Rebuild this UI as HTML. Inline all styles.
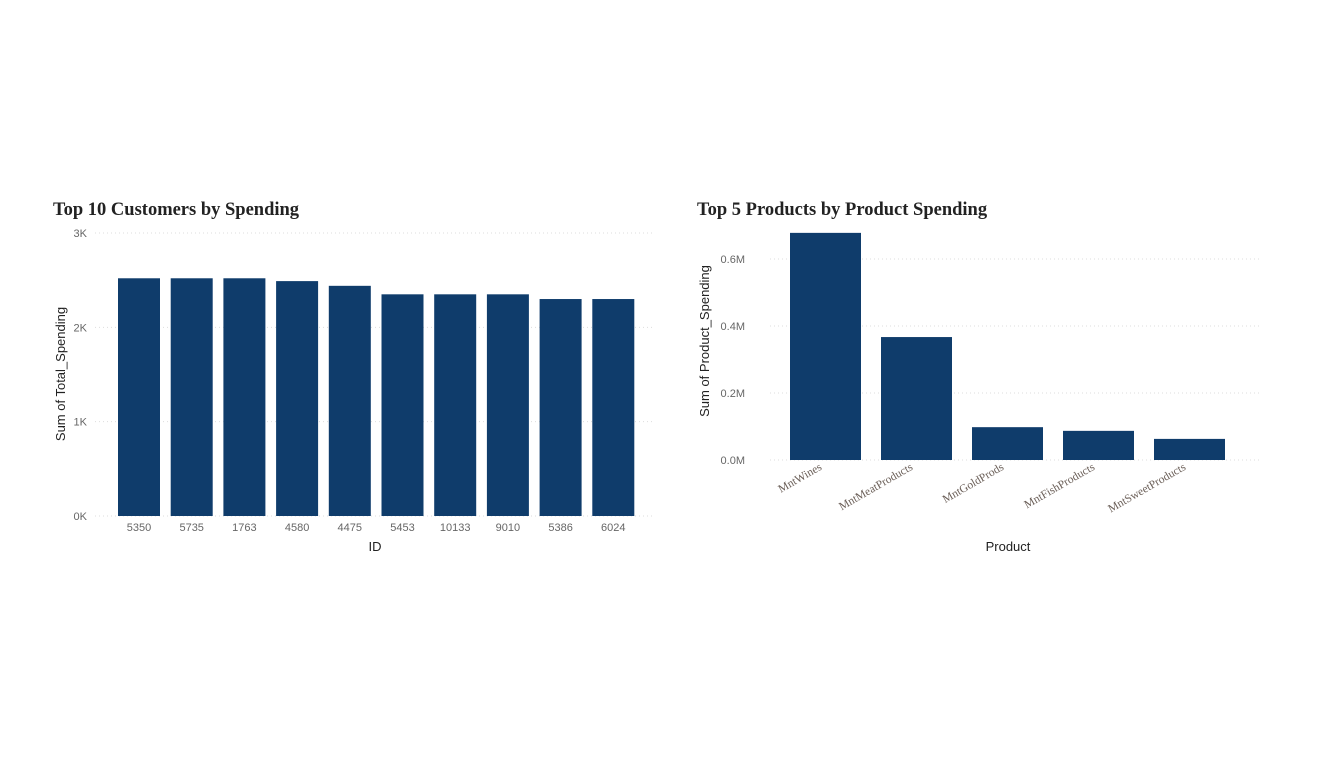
<!DOCTYPE html>
<html><head><meta charset="utf-8"><style>
body{margin:0;background:#fff;width:1320px;height:759px;overflow:hidden}
svg{display:block}
.t{font-family:"Liberation Serif",serif;font-weight:bold;font-size:18.5px;fill:#222}
.tk{font-family:"Liberation Sans",sans-serif;font-size:11px;fill:#666}
.ax{font-family:"Liberation Sans",sans-serif;font-size:13px;fill:#222}
.cat{font-family:"Liberation Serif",serif;font-size:11.5px;fill:#6b5f58}
</style></head><body>
<svg id="s" width="1320" height="759">
<text class="t" x="53" y="215">Top 10 Customers by Spending</text>
<text class="t" x="697" y="215">Top 5 Products by Product Spending</text>
<text class="ax" x="375" y="551" text-anchor="middle">ID</text>
<text class="ax" transform="translate(65,374) rotate(-90)" text-anchor="middle">Sum of Total_Spending</text>
<text class="ax" x="1008" y="551" text-anchor="middle">Product</text>
<text class="ax" transform="translate(709,341) rotate(-90)" text-anchor="middle">Sum of Product_Spending</text>
<g id="L"></g><g id="R"></g>
</svg>
<script>
const ids=["5350","5735","1763","4580","4475","5453","10133","9010","5386","6024"];
const spend=[2520,2520,2520,2490,2440,2350,2350,2350,2300,2300];
const leftTicks=[0,1000,2000,3000];
const leftTickLabels=["0K","1K","2K","3K"];
const products=["MntWines","MntMeatProducts","MntGoldProds","MntFishProducts","MntSweetProducts"];
const prodSpend=[0.678,0.367,0.098,0.087,0.063];
const rightTicks=[0,0.2,0.4,0.6];
const rightTickLabels=["0.0M","0.2M","0.4M","0.6M"];
const NS="http://www.w3.org/2000/svg";
function mk(p,tag,a){const e=document.createElementNS(NS,tag);for(const k in a)e.setAttribute(k,a[k]);p.appendChild(e);return e;}
const L=document.getElementById('L');
const ly=v=>516-v/3000*283;
leftTicks.forEach((v,i)=>{
 const g=mk(L,'line',{x1:95,x2:655,y1:ly(v),y2:ly(v),stroke:'#ddd','stroke-dasharray':'1,3'});
 
 
 const t=mk(L,'text',{x:87,y:ly(v)+4,'text-anchor':'end',class:'tk'});t.textContent=leftTickLabels[i];
 
 
});
const lx=i=>139+i*52.7;
ids.forEach((id,i)=>{
 const r=mk(L,'rect',{x:lx(i)-21,y:ly(spend[i]),width:42,height:516-ly(spend[i]),fill:'#0f3c6b'});
 
 
 const t=mk(L,'text',{x:lx(i),y:531,'text-anchor':'middle',class:'tk'});t.textContent=id;
 
 
});
const R=document.getElementById('R');
const ry=v=>460-v/0.6*201;
rightTicks.forEach((v,i)=>{
 const g=mk(R,'line',{x1:770,x2:1262,y1:ry(v),y2:ry(v),stroke:'#ddd','stroke-dasharray':'1,3'});
 
 
 const t=mk(R,'text',{x:745,y:ry(v)+4,'text-anchor':'end',class:'tk'});t.textContent=rightTickLabels[i];
 
 
});
const rx=i=>825.5+i*91;
products.forEach((p,i)=>{
 const r=mk(R,'rect',{x:rx(i)-35.5,y:ry(prodSpend[i]),width:71,height:460-ry(prodSpend[i]),fill:'#0f3c6b'});
 
 
 const t=mk(R,'text',{x:0,y:0,'text-anchor':'end',class:'cat',transform:`translate(${rx(i)-3},${469}) rotate(-30)`});t.textContent=p;
 
 
});
</script>
</body></html>
